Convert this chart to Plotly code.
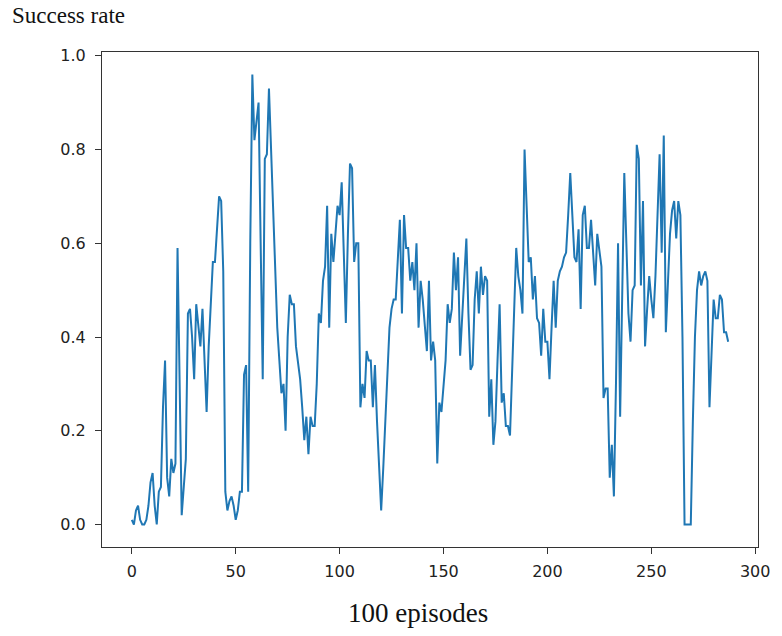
import plotly.graph_objects as go

success_rate = [
    0.01, 0.00, 0.03, 0.04, 0.01, 0.00, 0.00, 0.01, 0.04, 0.09,
    0.11, 0.04, 0.00, 0.07, 0.08, 0.25, 0.35, 0.10, 0.06, 0.14,
    0.11, 0.13, 0.59, 0.25, 0.02, 0.08, 0.14, 0.45, 0.46, 0.40,
    0.31, 0.47, 0.42, 0.38, 0.46, 0.36, 0.24, 0.38, 0.48, 0.56,
    0.56, 0.62, 0.70, 0.69, 0.54, 0.07, 0.03, 0.05, 0.06, 0.04,
    0.01, 0.03, 0.07, 0.07, 0.32, 0.34, 0.07, 0.60, 0.96, 0.82,
    0.86, 0.90, 0.60, 0.31, 0.78, 0.79, 0.93, 0.80, 0.65, 0.52,
    0.42, 0.35, 0.28, 0.30, 0.20, 0.40, 0.49, 0.47, 0.47, 0.38,
    0.34, 0.31, 0.25, 0.18, 0.23, 0.15, 0.23, 0.21, 0.21, 0.30,
    0.45, 0.43, 0.52, 0.55, 0.68, 0.42, 0.62, 0.56, 0.62, 0.68,
    0.66, 0.73, 0.58, 0.43, 0.62, 0.77, 0.76, 0.56, 0.60, 0.60,
    0.25, 0.30, 0.27, 0.37, 0.35, 0.35, 0.25, 0.34, 0.22, 0.12,
    0.03, 0.12, 0.22, 0.33, 0.42, 0.46, 0.48, 0.48, 0.58, 0.65,
    0.45, 0.66, 0.59, 0.59, 0.52, 0.56, 0.50, 0.60, 0.42, 0.52,
    0.48, 0.42, 0.37, 0.52, 0.35, 0.39, 0.35, 0.13, 0.26, 0.24,
    0.30, 0.35, 0.47, 0.43, 0.46, 0.58, 0.50, 0.57, 0.36, 0.45,
    0.52, 0.61, 0.45, 0.33, 0.34, 0.48, 0.54, 0.45, 0.55, 0.49,
    0.53, 0.52, 0.23, 0.31, 0.17, 0.22, 0.35, 0.47, 0.26, 0.28,
    0.21, 0.21, 0.19, 0.32, 0.45, 0.59, 0.53, 0.50, 0.45, 0.80,
    0.68, 0.56, 0.57, 0.48, 0.53, 0.44, 0.43, 0.36, 0.46, 0.39,
    0.39, 0.31, 0.42, 0.52, 0.42, 0.52, 0.54, 0.55, 0.57, 0.58,
    0.66, 0.75, 0.66, 0.57, 0.56, 0.63, 0.46, 0.66, 0.68, 0.59,
    0.59, 0.65, 0.58, 0.51, 0.62, 0.58, 0.55, 0.27, 0.29, 0.29,
    0.10, 0.17, 0.06, 0.30, 0.60, 0.23, 0.50, 0.75, 0.60, 0.45,
    0.39, 0.50, 0.51, 0.81, 0.78, 0.51, 0.69, 0.38, 0.46, 0.53,
    0.48, 0.44, 0.53, 0.65, 0.79, 0.58, 0.83, 0.41, 0.52, 0.62,
    0.67, 0.69, 0.61, 0.69, 0.66, 0.40, 0.00, 0.00, 0.00, 0.00,
    0.22, 0.40, 0.50, 0.54, 0.51, 0.53, 0.54, 0.52, 0.25, 0.38,
    0.48, 0.44, 0.44, 0.49, 0.48, 0.41, 0.41, 0.39,
]
episodes = list(range(len(success_rate)))

x_ticks = [0, 50, 100, 150, 200, 250, 300]
y_ticks = [0.0, 0.2, 0.4, 0.6, 0.8, 1.0]

fig = go.Figure()
fig.add_trace(go.Scatter(
    x=episodes, y=success_rate, mode="lines",
    line=dict(color="#1f77b4", width=2),
    showlegend=False,
))

axis_common = dict(
    showgrid=False, zeroline=False,
    showline=True, linecolor="#333333", linewidth=1, mirror=True,
    ticks="outside", ticklen=6, tickwidth=1, tickcolor="#333333",
    tickfont=dict(family="DejaVu Sans", size=16, color="#222222"),
    ticklabeloverflow="allow",
)

fig.update_layout(
    width=782, height=636,
    margin=dict(l=102, r=14, t=52, b=89),
    plot_bgcolor="white", paper_bgcolor="white",
    xaxis=dict(range=[-14.35, 301.35], tickvals=x_ticks,
               ticklabelstandoff=4, **axis_common),
    yaxis=dict(range=[-0.048, 1.008], tickvals=y_ticks, tickformat=".1f",
               ticklabelstandoff=6, **axis_common),
    annotations=[
        dict(text="Success rate", xref="paper", yref="paper",
             x=-0.140, y=1.073, xanchor="left", yanchor="middle",
             showarrow=False,
             font=dict(family="Liberation Serif", size=23, color="#111111")),
        dict(text="100 episodes", xref="paper", yref="paper",
             x=0.481, y=-0.133, xanchor="center", yanchor="middle",
             showarrow=False,
             font=dict(family="Liberation Serif", size=27, color="#111111")),
    ],
)

fig.write_html("out.html")
